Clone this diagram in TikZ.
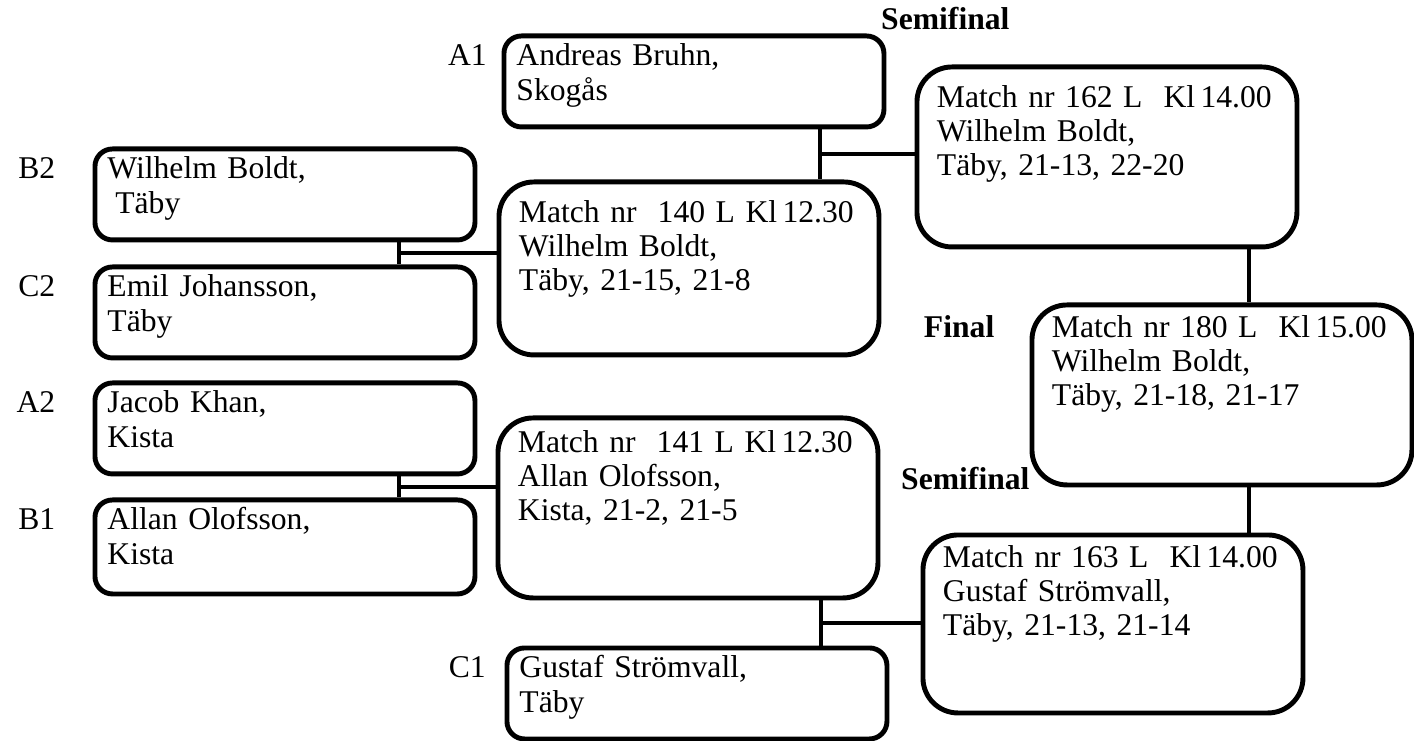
\documentclass[tikz,border=0pt]{standalone}
\usepackage{fontspec}
\setmainfont{Liberation Serif}
\usetikzlibrary{calc}
\tikzset{
	spelare/.style={draw, line width=2.8pt, rounded corners=0.35cm, anchor=north west, align=left,
		inner xsep=0.25cm, inner ysep=0pt, text width=7.1cm, text height=#1, text depth=1.82cm-#1},
	spelare/.default=0.6cm,
	match/.style={draw, line width=2.8pt, rounded corners=0.7cm, anchor=north west, align=left,
		inner xsep=0.4cm, inner ysep=0pt, text width=6.8cm, text height=#1, text depth=3.6cm-#1},
	match/.default=0.8cm,
	lott/.style={anchor=base east},
	rubrik/.style={anchor=base west, font=\fontsize{18}{19.4}\selectfont\bfseries},
	linje/.style={line width=2.3pt}
}

\begin{document}
\begin{tikzpicture}[font=\fontsize{18}{19.4}\selectfont]
			%%%%% START %%%%%
			\useasboundingbox (0,0) rectangle (28.28,14.8);
			
			% forsta omgangen
			\node[spelare] (A1) at (10.03, 14.13) {Andreas Bruhn,\\Skogås};
			\node[spelare] (B2) at (1.85, 11.87) {Wilhelm Boldt,\\\hspace*{0.25em}Täby};
			\node[spelare] (C2) at (1.85, 9.51) {Emil Johansson,\\Täby};
			\node[spelare] (A2) at (1.85, 7.19) {Jacob Khan,\\Kista};
			\node[spelare, text depth=1.28cm] (B1) at (1.85, 4.85) {Allan Olofsson,\\Kista};
			\node[spelare] (C1) at (10.09, 1.89) {Gustaf Strömvall,\\Täby};
			
			\node[lott] (lA1) at ([xshift=-0.17cm]A1.base west) {A1};
			\node[lott] (lB2) at ([xshift=-0.62cm]B2.base west) {B2};
			\node[lott] (lC2) at ([xshift=-0.62cm]C2.base west) {C2};
			\node[lott] (lA2) at ([xshift=-0.62cm]A2.base west) {A2};
			\node[lott] (lB1) at ([xshift=-0.62cm]B1.base west) {B1};
			\node[lott] (lC1) at ([xshift=-0.25cm]C1.base west) {C1};
			
			% matcher
			\node[match=0.81cm, text depth=2.65cm] (M140) at (9.93, 11.21) {Match~nr~~140~L~Kl\,12.30\\Wilhelm Boldt,\\Täby, 21-15, 21-8};
			\node[match=0.69cm] (M141) at (9.91, 6.49) {Match~nr~~141~L~Kl\,12.30\\Allan Olofsson,\\Kista, 21-2, 21-5};
			\node[match=0.81cm] (M162) at (18.29, 13.51) {Match~nr~162~L~~Kl\,14.00\\Wilhelm Boldt,\\Täby, 21-13, 22-20};
			\node[match=0.65cm, text depth=2.91cm] (M163) at (18.41, 4.15) {Match~nr~163~L~~Kl\,14.00\\Gustaf Strömvall,\\Täby, 21-13, 21-14};
			\node[match=0.65cm] (M180) at (20.59, 8.75) {Match~nr~180~L~~Kl\,15.00\\Wilhelm Boldt,\\Täby, 21-18, 21-17};
			
			\node[rubrik] (semi1) at (17.5, 14.2) {Semifinal};
			\node[rubrik, anchor=base east] (final) at ([xshift=-0.58cm]M180.base west) {Final};
			\node[rubrik] (semi2) at (17.9, 5.0) {Semifinal};
			
			% linjer
			\coordinate (j1) at ($(B2.south east)!0.5!(B2.south east |- C2.north)+(-1.57,0)$);
			\draw[linje] (B2.south -| j1) -- (C2.north -| j1);
			\draw[linje] (j1) -- (j1 -| M140.west);
			
			\coordinate (j2) at ($(A2.south east)!0.5!(A2.south east |- B1.north)+(-1.57,0)$);
			\draw[linje] (A2.south -| j2) -- (B1.north -| j2);
			\draw[linje] (j2) -- (j2 -| M141.west);
			
			\coordinate (j3) at ($(A1.south east)!0.5!(A1.south east |- M140.north)+(-1.33,0)$);
			\draw[linje] (A1.south -| j3) -- (M140.north -| j3);
			\draw[linje] (j3) -- (j3 -| M162.west);
			
			\coordinate (j4) at ($(C1.north east)!0.5!(C1.north east |- M141.south)+(-1.37,0)$);
			\draw[linje] (M141.south -| j4) -- (C1.north -| j4);
			\draw[linje] (j4) -- (j4 -| M163.west);
			
			\coordinate (jf) at ([xshift=-1.0cm]M162.south east);
			\draw[linje] (jf) -- (jf |- M180.north);
			\draw[linje] (M180.south -| jf) -- (M163.north -| jf);
			
			%%%%% END %%%%%
\end{tikzpicture}
\end{document}
